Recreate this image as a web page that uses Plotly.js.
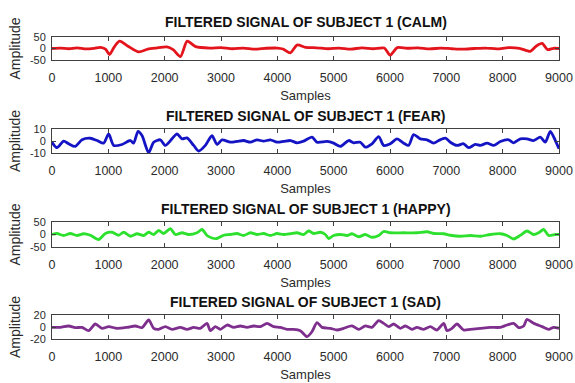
<!DOCTYPE html>
<html>
<head>
<meta charset="utf-8">
<script src="https://cdn.plot.ly/plotly-3.0.1.min.js"></script>
<style>html,body{margin:0;padding:0;background:#fff;}#chart{width:575px;height:383px;}</style>
</head>
<body>
<div id="chart"></div>
<script>
// ---- Data ----
const calmSamples = [0,150,300,450,600,750,860,950,1020,1100,1200,1350,1540,1700,1850,2040,2150,2280,2400,2550,2800,3000,3200,3400,3600,3800,4000,4100,4230,4350,4500,4700,4900,5100,5300,5500,5700,5900,6000,6130,6300,6500,6700,6900,7100,7300,7500,7700,7900,8100,8300,8490,8600,8700,8800,8900,9000];
const calmValues = [0,2,-1,3,-2,1,5,-3,-26,5,32,10,-15,-3,2,7,-5,-35,32,8,2,4,-1,2,-3,1,2,-2,-19,15,5,3,-1,2,-3,3,-1,2,-29,4,1,3,-2,2,-1,-3,0,2,-2,4,1,-12,11,22,-5,1,0];

const fearSamples = [0,89,207,296,414,533,680,799,917,1006,1095,1243,1391,1450,1527,1598,1716,1805,1923,2012,2130,2219,2308,2396,2515,2604,2722,2840,2929,3018,3166,3284,3402,3521,3639,3757,3876,3994,4112,4231,4349,4467,4615,4704,4882,5000,5118,5266,5355,5473,5562,5680,5799,5888,6006,6124,6243,6331,6420,6538,6657,6775,6864,6982,7071,7189,7308,7396,7515,7604,7722,7840,7959,8107,8195,8314,8432,8550,8669,8757,8846,8935,9000];
const fearValues = [-1.0,-5.6,-0.1,-2.3,-4.5,1.0,2.3,0.4,-1.8,5.9,-3.7,-2.9,0.4,-1.8,8.1,4.5,-9.8,-1.0,1.0,-3.7,1.8,5.9,1.8,2.6,-3.7,-8.4,-3.7,4.5,-2.9,1.0,-1.0,-0.4,0.4,-1.0,1.0,-0.1,1.0,-1.0,-0.4,0.4,-1.5,-0.1,3.2,-1.0,-0.4,-1.8,-4.5,0.4,-1.5,-1.0,-5.1,-2.3,3.7,-3.7,-2.3,1.8,-1.8,-3.7,5.3,1.8,1.0,-1.8,0.4,2.3,-1.0,-3.7,-2.3,-5.6,-2.9,-3.7,-1.8,-3.7,-0.4,1.0,-1.5,1.8,1.8,0.4,3.2,-1.0,8.1,0.4,-6.4];

const happySamples = [0,89,207,325,444,562,680,828,947,1065,1183,1272,1391,1509,1627,1716,1805,1893,1982,2101,2189,2308,2426,2574,2663,2751,2840,2929,3047,3166,3284,3402,3521,3639,3757,3876,3994,4112,4231,4349,4467,4556,4645,4763,4852,4911,5000,5118,5237,5325,5444,5562,5680,5799,5888,6006,6243,6479,6657,6775,6953,7071,7249,7426,7604,7781,7959,8077,8195,8314,8432,8550,8639,8728,8817,8935,9000];
const happyValues = [0,4,-4,4,-4,3,-3,-20,4,9,-3,9,-7,3,-4,9,0,16,4,23,0,7,0,7,20,-4,-14,-16,-3,0,4,-4,7,0,4,-4,4,0,3,7,0,14,4,9,0,-16,-4,0,-4,3,-9,0,-11,-4,12,7,7,7,11,4,3,-3,-7,-4,-7,0,3,-4,-18,-3,14,0,7,20,-4,0,0];

const sadSamples = [0,148,296,414,533,651,769,888,1006,1154,1331,1479,1598,1716,1805,1893,2012,2130,2278,2396,2515,2633,2751,2811,2899,2988,3107,3225,3343,3462,3580,3698,3817,3935,4053,4172,4290,4408,4527,4615,4704,4793,4941,5059,5178,5325,5444,5562,5680,5799,5888,5976,6065,6183,6272,6391,6479,6598,6716,6834,6953,7012,7101,7189,7308,7426,7604,7781,7959,8077,8195,8284,8373,8432,8550,8698,8817,8905,9000];
const sadValues = [-0.6,-0.6,1.7,-1.1,-0.6,-6.1,5,-2.2,0.6,-2.2,-0.6,1.7,-1.1,11.7,-2.2,-3.9,0.6,-3.9,-0.6,-3.9,-0.6,-2.2,6.1,-6.1,0.6,-3.9,3.3,-0.6,1.7,-0.6,1.7,0.6,6.1,0.6,-0.6,-3.9,-3.9,-6.1,-16.1,-7.8,7.2,-0.6,-2.2,-5,-2.2,1.7,-3.9,1.7,-0.6,10.6,6.1,0.6,5,-2.2,1.7,-3.9,-0.6,-3.9,0.6,-5,6.1,-6.1,-2.2,5,-5,-3.9,-2.2,-0.6,-0.6,3.3,6.1,-1.1,1.7,12.8,6.1,0.6,-3.9,-0.6,-2.2];

const titles = ["FILTERED SIGNAL OF SUBJECT 1 (CALM)","FILTERED SIGNAL OF SUBJECT 1 (FEAR)","FILTERED SIGNAL OF SUBJECT 1 (HAPPY)","FILTERED SIGNAL OF SUBJECT 1 (SAD)"];
const yLimits = [50,10,50,20];
const xTicks = [0,1000,2000,3000,4000,5000,6000,7000,8000,9000];

// ---- Styling ----
const series = [[calmSamples,calmValues],[fearSamples,fearValues],[happySamples,happyValues],[sadSamples,sadValues]];
const colors = ["#e3141b","#1414c4","#2ee02e","#7e2f8e"];
const H = 383;
const boxes = [[37,60],[129,153],[222,247],[315,339]]; // px from top
const titleY = [22,116,209,302];
const FONT = "Liberation Sans, Arial, sans-serif";
const TXT = "#2b2b2b";

const data = [];
const layout = {
  width:575, height:383,
  margin:{l:52,r:16,t:0,b:0},
  paper_bgcolor:"#ffffff", plot_bgcolor:"#ffffff",
  showlegend:false,
  font:{family:FONT,size:12,color:TXT},
  annotations:[]
};
series.forEach((s,i)=>{
  const n = i===0?"":String(i+1);
  data.push({x:s[0],y:s[1],type:"scatter",mode:"lines",
    line:{color:colors[i],width:2.8,shape:"spline",smoothing:0.7},
    xaxis:"x"+n,yaxis:"y"+n,hoverinfo:"skip"});
  const b = boxes[i];
  layout["xaxis"+n] = {
    domain:[0,1], anchor:"y"+n, range:[0,9000],
    tickvals:xTicks, ticktext:xTicks.map(String),
    ticks:"inside", ticklen:4, tickcolor:"#404040", tickwidth:1,
    showline:true, linecolor:"#404040", linewidth:1, mirror:"allticks",
    showgrid:false, zeroline:false,
    tickfont:{family:FONT,size:12.5,color:TXT},
    ticklabelstandoff:6,
    title:{text:"Samples",font:{family:FONT,size:13,color:TXT},standoff:6}
  };
  const L = yLimits[i];
  layout["yaxis"+n] = {
    domain:[1-b[1]/H,1-b[0]/H], anchor:"x"+n, range:[-L,L],
    tickvals:[-L,0,L], ticktext:[String(-L),"0",String(L)],
    ticks:"inside", ticklen:4, tickcolor:"#404040", tickwidth:1,
    showline:true, linecolor:"#404040", linewidth:1, mirror:"allticks",
    showgrid:false, zeroline:false,
    tickfont:{family:FONT,size:11,color:TXT},
    ticklabelstandoff:3,
    title:{text:"Amplitude",font:{family:FONT,size:14,color:TXT},standoff:5}
  };
  layout.annotations.push({text:"<b>"+titles[i]+"</b>",xref:"paper",yref:"paper",
    x:0.5,y:1-titleY[i]/H,xanchor:"center",yanchor:"middle",showarrow:false,
    font:{family:FONT,size:14,color:"#111111"}});
});
Plotly.newPlot("chart",data,layout,{staticPlot:true,displayModeBar:false});
</script>
</body>
</html>
